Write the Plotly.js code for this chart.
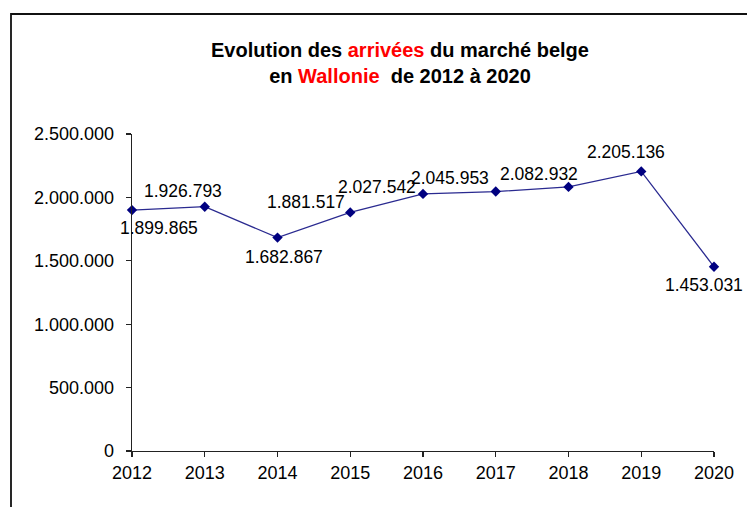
<!DOCTYPE html>
<html>
<head>
<meta charset="utf-8">
<script src="https://cdn.plot.ly/plotly-3.0.1.min.js"></script>
<style>
html,body{margin:0;padding:0;background:#fff;}
#chart{width:747px;height:507px;}
</style>
</head>
<body>
<div id="chart"></div>
<script>
// Data
var years = [2012, 2013, 2014, 2015, 2016, 2017, 2018, 2019, 2020];
var arrivals = [1899865, 1926793, 1682867, 1881517, 2027542, 2045953, 2082932, 2205136, 1453031];
var yTickValues = [0, 500000, 1000000, 1500000, 2000000, 2500000];

// Label placement offsets (pixels) relative to each point
var labelDx = [27, -22, 6, -44, -46, -46, -30, -15, -10];
var labelDy = [-18, 16, -19, 10, 7, 14, 13, 19, -18];

function fmt(v) {
  return String(v).replace(/\B(?=(\d{3})+(?!\d))/g, '.');
}

var FONT = 'Liberation Sans, Arial, sans-serif';
var W = 747, H = 507;
var M = {l: 132, r: 33, t: 134, b: 56};
var pw = W - M.l - M.r, ph = H - M.t - M.b;

var annotations = years.map(function (yr, i) {
  return {
    x: yr, y: arrivals[i], xref: 'x', yref: 'y',
    text: fmt(arrivals[i]), showarrow: false,
    xshift: labelDx[i], yshift: labelDy[i],
    font: {family: FONT, size: 17.5, color: '#000'}
  };
});

var trace = {
  x: years, y: arrivals, type: 'scatter', mode: 'lines+markers',
  line: {color: '#2a2a90', width: 1.3},
  marker: {symbol: 'diamond', size: 8, color: '#000080'},
  cliponaxis: false, hoverinfo: 'none'
};

var layout = {
  width: W, height: H,
  margin: M,
  paper_bgcolor: '#fff', plot_bgcolor: '#fff',
  showlegend: false,
  separators: ',.',
  title: {
    text: 'Evolution des <span style="color:#ff0000">arrivées</span> du marché belge<br>en <span style="color:#ff0000">Wallonie</span>  de 2012 à 2020',
    font: {family: FONT, size: 20, color: '#000', weight: 'bold'},
    x: 400 / W, xref: 'container', xanchor: 'center',
    y: 1 - 57 / H, yref: 'container', yanchor: 'top'
  },
  xaxis: {
    range: [2012, 2020], tickmode: 'array', tickvals: years,
    ticktext: years.map(String),
    showgrid: false, zeroline: false, showline: true,
    linecolor: '#222', linewidth: 1.3,
    ticks: 'outside', ticklen: 5, tickcolor: '#222', tickwidth: 1.3,
    tickfont: {family: FONT, size: 18, color: '#000'}
  },
  yaxis: {
    range: [0, 2500000], tickmode: 'array', tickvals: yTickValues,
    ticktext: yTickValues.map(fmt),
    showgrid: false, zeroline: false, showline: true,
    linecolor: '#222', linewidth: 1.3,
    ticks: 'outside', ticklen: 5, tickcolor: '#222', tickwidth: 1.3,
    ticklabelstandoff: 8,
    tickfont: {family: FONT, size: 18, color: '#000'}
  },
  annotations: annotations,
  shapes: [{
    type: 'rect', xref: 'paper', yref: 'paper', layer: 'below',
    x0: (11 - M.l) / pw, x1: (W + 20 - M.l) / pw,
    y0: (M.t + ph - (H + 20)) / ph, y1: (M.t + ph - 14) / ph,
    line: {color: '#111', width: 1.8}, fillcolor: 'rgba(0,0,0,0)'
  }]
};

Plotly.newPlot('chart', [trace], layout, {displayModeBar: false, staticPlot: true});
</script>
</body>
</html>
